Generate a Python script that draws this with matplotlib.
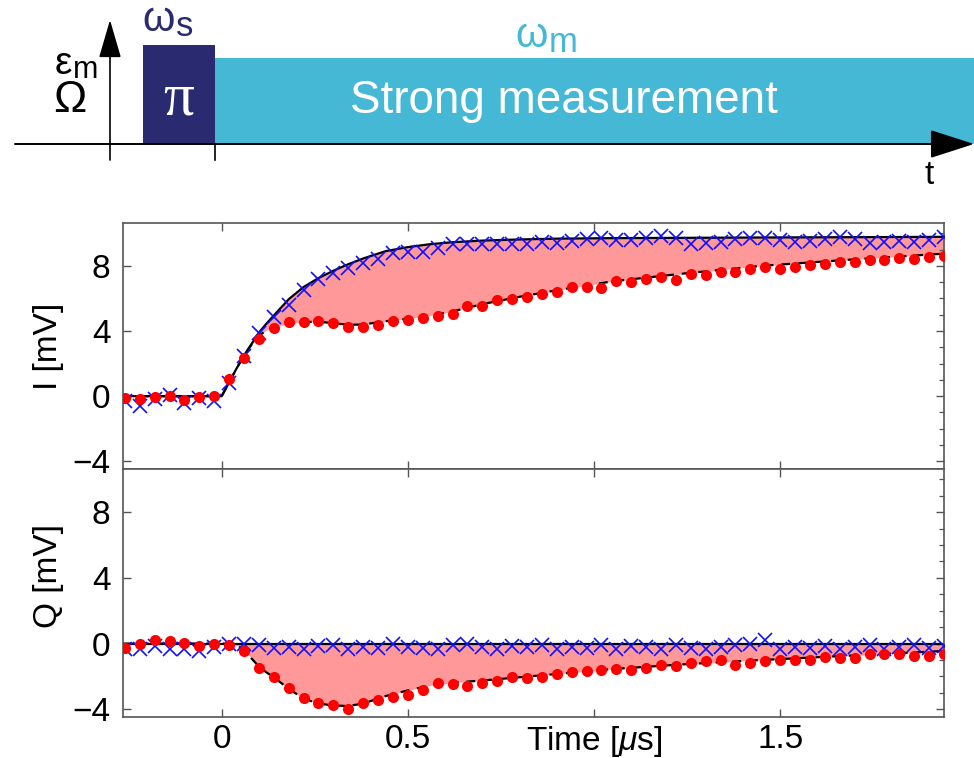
import numpy as np
import matplotlib
matplotlib.use("Agg")
import matplotlib.pyplot as plt
from matplotlib.patches import Rectangle
from matplotlib.ticker import MultipleLocator

plt.rcParams['font.family'] = ['Liberation Sans', 'DejaVu Sans']
plt.rcParams['mathtext.fontset'] = 'custom'
plt.rcParams['mathtext.rm'] = 'Liberation Sans'
plt.rcParams['mathtext.it'] = 'Liberation Sans:italic'

# ---------------- data ----------------
# sample times (µs)
time_us = [-0.26, -0.22, -0.18, -0.14, -0.10, -0.06, -0.02,
           0.02, 0.06, 0.10, 0.14, 0.18, 0.22, 0.26, 0.30, 0.34, 0.38,
           0.42, 0.46, 0.50, 0.54, 0.58, 0.62, 0.66, 0.70, 0.74, 0.78,
           0.82, 0.86, 0.90, 0.94, 0.98, 1.02, 1.06, 1.10, 1.14, 1.18,
           1.22, 1.26, 1.30, 1.34, 1.38, 1.42, 1.46, 1.50, 1.54, 1.58,
           1.62, 1.66, 1.70, 1.74, 1.78, 1.82, 1.86, 1.90, 1.94]

# I quadrature (mV): crosses = without pulse, dots = with pulse
I_cross = [-0.30, -0.60, -0.15, 0.05, -0.40, -0.10, -0.30,
           0.80, 2.47, 3.86, 4.88, 5.60, 6.52, 7.17, 7.54, 7.84, 8.15,
           8.39, 8.76, 8.86, 8.86, 9.07, 9.37, 9.33, 9.33, 9.33, 9.33,
           9.37, 9.48, 9.41, 9.54, 9.62, 9.68, 9.58, 9.58, 9.68, 9.82,
           9.68, 9.37, 9.41, 9.48, 9.62, 9.68, 9.68, 9.58, 9.48, 9.54,
           9.62, 9.74, 9.62, 9.41, 9.48, 9.54, 9.48, 9.58, 9.78]
I_dot = [-0.12, -0.16, -0.06, 0.04, -0.26, -0.08, 0.00,
         1.07, 2.37, 3.54, 4.17, 4.54, 4.54, 4.64, 4.51, 4.27, 4.27,
         4.37, 4.62, 4.68, 4.82, 4.94, 5.03, 5.54, 5.56, 5.90, 5.95,
         6.11, 6.29, 6.37, 6.72, 6.72, 6.62, 7.07, 7.03, 7.17, 7.33,
         7.13, 7.47, 7.41, 7.64, 7.64, 7.78, 7.94, 7.78, 7.94, 8.05,
         8.09, 8.25, 8.21, 8.35, 8.35, 8.46, 8.40, 8.55, 8.62]

# Q quadrature (mV)
Q_cross = [-0.35, -0.30, -0.15, -0.35, -0.30, -0.45, -0.20,
           -0.05, 0.00, -0.10, -0.25, -0.20, -0.30, -0.15, -0.10, -0.30, -0.20,
           -0.25, -0.05, -0.20, -0.25, -0.30, -0.10, 0.00, -0.20, -0.30, -0.15,
           -0.20, -0.10, -0.30, -0.20, -0.25, -0.10, -0.30, -0.15, -0.20, -0.30,
           -0.10, -0.25, -0.30, -0.20, -0.10, -0.05, 0.20, -0.30, -0.20, -0.25,
           -0.15, -0.30, -0.20, -0.10, -0.30, -0.20, -0.10, -0.25, -0.15]
Q_dot = [-0.27, -0.04, 0.20, 0.16, 0.04, -0.17, 0.00,
         -0.10, -0.48, -1.50, -2.02, -2.72, -3.33, -3.64, -3.75, -3.97, -3.64,
         -3.44, -3.25, -3.13, -2.84, -2.43, -2.47, -2.57, -2.43, -2.27, -2.02,
         -2.12, -2.04, -1.85, -1.75, -1.69, -1.59, -1.54, -1.59, -1.48, -1.28,
         -1.38, -1.19, -1.09, -0.97, -1.28, -1.17, -1.09, -0.99, -0.99, -0.99,
         -0.79, -0.88, -0.88, -0.63, -0.63, -0.63, -0.73, -0.73, -0.63]

# model curves (mV) at knot times (µs)
fit_time = [-0.265, 0.00, 0.02, 0.04, 0.06, 0.08, 0.10, 0.12, 0.14, 0.18,
            0.22, 0.26, 0.30, 0.34, 0.38, 0.44, 0.50, 0.56, 0.62, 0.70,
            0.80, 0.90, 1.05, 1.25, 1.45, 1.70, 1.94]
I_fit_ground = [0, 0, 0.85, 1.70, 2.50, 3.20, 3.90, 4.45, 4.95, 5.95,
                6.70, 7.25, 7.70, 8.10, 8.45, 8.90, 9.15, 9.33, 9.45, 9.55,
                9.62, 9.67, 9.70, 9.72, 9.74, 9.76, 9.78]
I_fit_excited = [0, 0, 0.85, 1.70, 2.50, 3.15, 3.70, 4.05, 4.25, 4.45,
                 4.55, 4.57, 4.48, 4.38, 4.40, 4.60, 4.75, 4.95, 5.20, 5.65,
                 6.10, 6.50, 7.05, 7.55, 8.00, 8.40, 8.75]
Q_fit_ground = [0] * 27
Q_fit_excited = [0, 0, 0, -0.10, -0.35, -0.90, -1.40, -1.75, -2.05, -2.75,
                 -3.35, -3.65, -3.77, -3.80, -3.65, -3.20, -2.85, -2.55, -2.38, -2.25,
                 -2.05, -1.85, -1.55, -1.25, -1.00, -0.72, -0.45]

x_ticks = [0, 0.5, 1.0, 1.5]
x_ticklabels = ['0', '0.5', r'Time [$\mu$s]', '1.5']
y_ticks = [-4, 0, 4, 8]

# ---------------- figure ----------------
W, H = 974, 758
fig = plt.figure(figsize=(W / 100, H / 100), dpi=100)

ax_I = fig.add_axes([123 / W, (H - 469) / H, 821 / W, 246 / H])
ax_Q = fig.add_axes([123 / W, (H - 717) / H, 821 / W, 248 / H])

fill_col = '#ff9999'
frame_col = '#555555'
label_fs = 24

panels = [
    (ax_I, I_cross, I_dot, I_fit_ground, I_fit_excited, 'I [mV]', 0.5),
    (ax_Q, Q_cross, Q_dot, Q_fit_ground, Q_fit_excited, 'Q [mV]', 0.57),
]
for ax, cross, dot, fit_g, fit_e, ylab, ylab_pos in panels:
    ax.fill_between(fit_time, fit_g, fit_e, color=fill_col, lw=0, zorder=1)
    ax.plot(fit_time, fit_g, color='k', lw=1.6, zorder=2)
    ax.plot(fit_time, fit_e, color='k', lw=1.6, ls=(0, (4, 3.5)), zorder=2)
    ax.plot(time_us, cross, ls='none', marker='x', ms=10.5, mew=1.2,
            color='#1010ff', zorder=3)
    ax.plot(time_us, dot, ls='none', marker='o', ms=8, mew=0,
            color='#ff0000', zorder=4)

    ax.set_xlim(-0.265, 1.94)
    ax.set_ylim(-4.47, 10.63)
    ax.set_xticks(x_ticks)
    ax.set_yticks(y_ticks)
    ax.yaxis.set_minor_locator(MultipleLocator(1))
    ax.tick_params(which='major', direction='in', top=True, right=True,
                   length=6, width=1.0, color=frame_col, labelsize=label_fs, pad=9)
    ax.tick_params(which='minor', direction='in', left=False, right=True,
                   length=3.5, width=0.9, color=frame_col)
    for s in ax.spines.values():
        s.set_color(frame_col)
        s.set_linewidth(1.2)
    ax.set_ylabel(ylab, fontsize=label_fs)
    ax.yaxis.set_label_coords(-0.072, ylab_pos)

ax_I.tick_params(labelbottom=False)
ax_Q.set_xticklabels(x_ticklabels)
ax_Q.tick_params(axis='x', pad=5)

# ---------------- pulse sequence schematic ----------------
ax_s = fig.add_axes([0, (H - 190) / H, 1, 190 / H])
ax_s.set_xlim(0, W)
ax_s.set_ylim(190, 0)
ax_s.axis('off')

baseline = 144
axis_x = 110
pulse_left, pulse_right, pulse_top = 143, 215, 45
meas_right, meas_top = 974, 58
navy = '#2a2a70'
cyan = '#45b8d6'

ax_s.add_patch(Rectangle((pulse_left, pulse_top), pulse_right - pulse_left,
                         baseline - pulse_top, color=navy, lw=0, zorder=1))
ax_s.add_patch(Rectangle((pulse_right, meas_top), meas_right - pulse_right,
                         baseline - meas_top, color=cyan, lw=0, zorder=1))

ax_s.annotate('', xy=(974, baseline), xytext=(15, baseline),
              arrowprops=dict(arrowstyle='-|>,head_length=1.4,head_width=0.45',
                              lw=1.4, color='k', mutation_scale=20,
                              shrinkA=0, shrinkB=0), zorder=3)
ax_s.annotate('', xy=(axis_x, 20), xytext=(axis_x, 160),
              arrowprops=dict(arrowstyle='-|>,head_length=1.2,head_width=0.35',
                              lw=1.2, color='k', mutation_scale=20,
                              shrinkA=0, shrinkB=0), zorder=3)
ax_s.plot([pulse_right, pulse_right], [baseline, 160], color='k', lw=1.2, zorder=3)

ax_s.text((pulse_left + pulse_right) / 2, 100, 'π', color='white', fontsize=44,
          family=['Liberation Serif', 'DejaVu Serif'], ha='center', va='center', zorder=4)
ax_s.text(564, 101, 'Strong measurement', color='white', fontsize=33,
          ha='center', va='center', zorder=4)

# frequency labels: symbol followed by a lowered subscript
def symbol_with_sub(x, y, sym, sub, color, fs, sub_fs):
    ax_s.text(x, y, sym, color=color, fontsize=fs, ha='right', va='center')
    ax_s.text(x + 1, y + 6, sub, color=color, fontsize=sub_fs, ha='left', va='center')

symbol_with_sub(175, 20, 'ω', 's', navy, 30, 25)
symbol_with_sub(548, 36, 'ω', 'm', cyan, 30, 25)
symbol_with_sub(72, 64, 'ε', 'm', 'k', 28, 22)
ax_s.text(70, 101, 'Ω', color='k', fontsize=32, ha='center', va='center')
ax_s.text(929, 176, 't', color='k', fontsize=24, ha='center', va='center')

fig.savefig('out.png', dpi=100)
